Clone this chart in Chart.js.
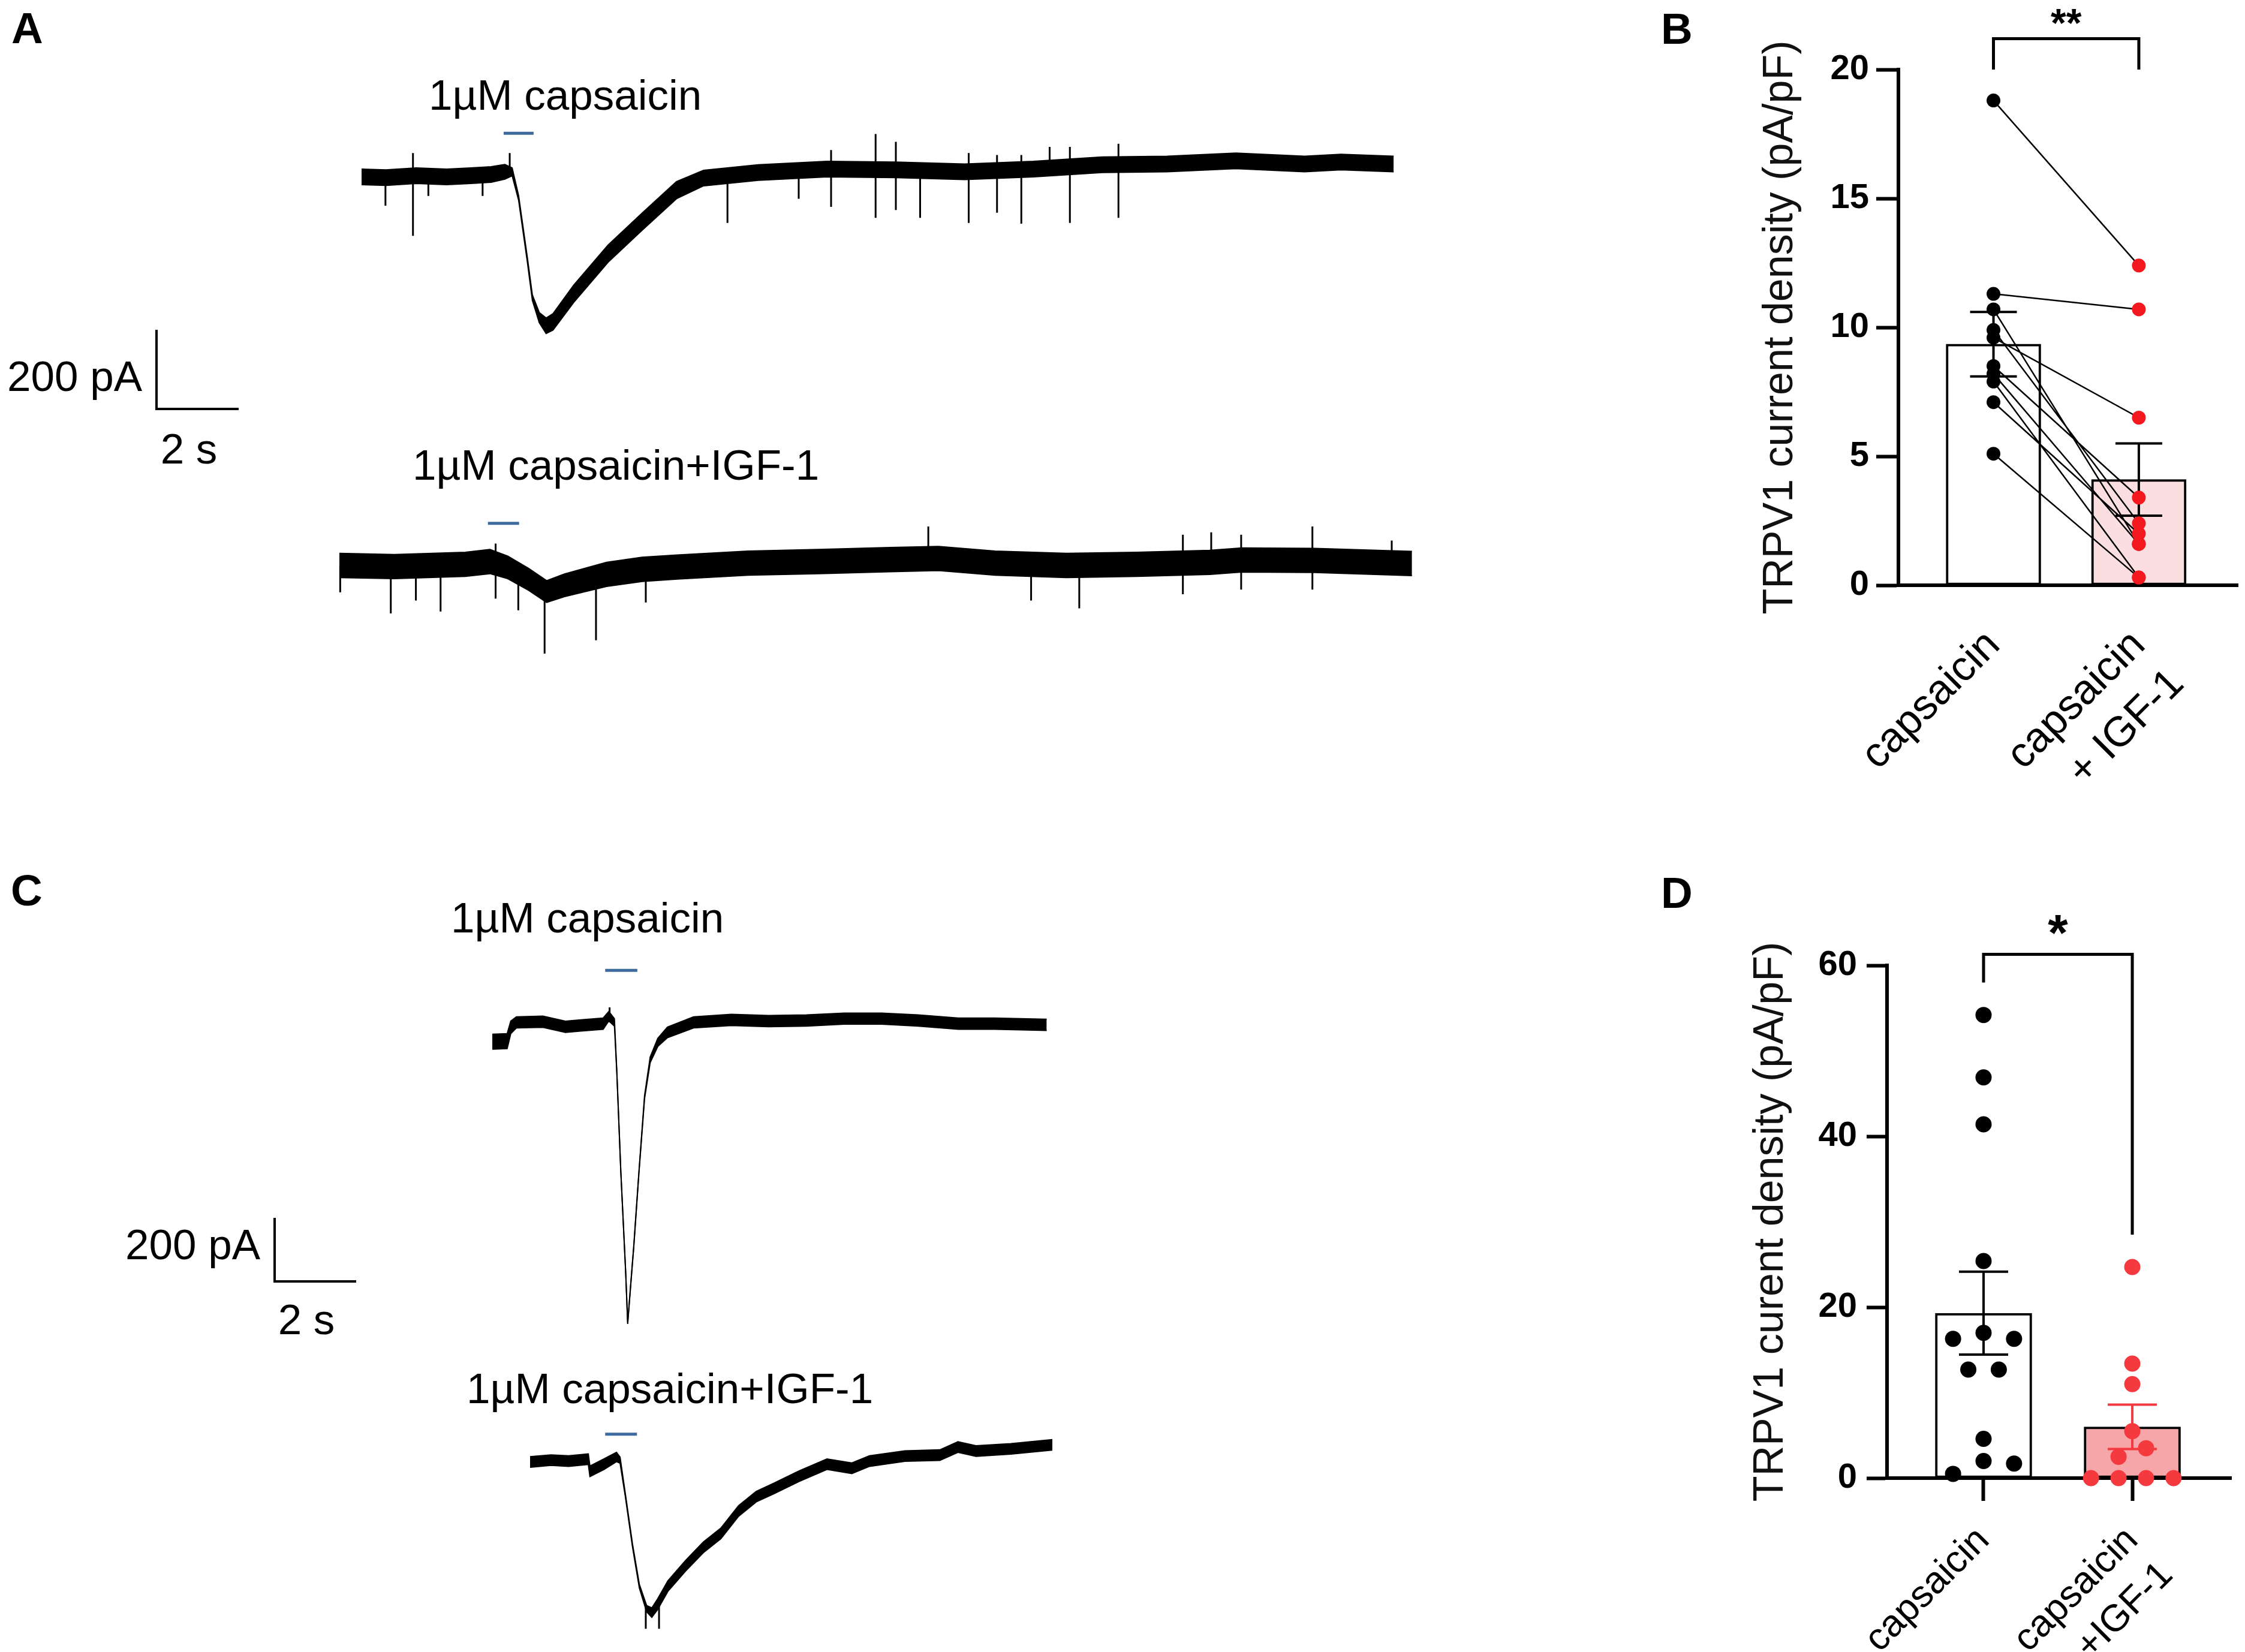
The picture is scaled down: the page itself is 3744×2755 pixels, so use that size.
<!DOCTYPE html>
<html>
<head>
<meta charset="utf-8">
<script src="https://cdn.jsdelivr.net/npm/chart.js@4.4.1/dist/chart.umd.min.js"></script>
<style>
html,body{margin:0;padding:0;background:#fff;width:3744px;height:2755px;overflow:hidden;}
canvas{position:absolute;display:block;}
</style>
</head>
<body>
<canvas id="cA" width="2400" height="1200" style="left:0px;top:0px;width:2400px;height:1200px"></canvas>
<canvas id="cC" width="2000" height="1355" style="left:0px;top:1400px;width:2000px;height:1355px"></canvas>
<canvas id="cB" width="1004" height="1340" style="left:2740px;top:0px;width:1004px;height:1340px"></canvas>
<canvas id="cD" width="1004" height="1335" style="left:2740px;top:1420px;width:1004px;height:1335px"></canvas>
<script>
// ---------------- DATA ----------------
// Panel A, top trace: 1 uM capsaicin (time s, current pA, noise band pA)
const timeA1 = [0.00,0.60,1.35,2.10,2.70,3.20,3.54,3.72,3.88,4.09,4.22,4.39,4.56,4.73,5.24,6.09,6.93,7.78,8.45,9.80,11.5,13.2,14.9,16.6,18.3,19.9,21.6,23.3,24.2,25.5];
const currentA1 = [0,-2,3,0,3,6,13,13,-54,-208,-310,-361,-382,-372,-300,-197,-115,-34,-3,11,20,18,13,20,31,33,41,33,38,33];
const noiseA1 = [40,40,40,40,40,40,38,20,12,12,14,26,40,42,44,44,44,44,40,40,40,40,40,40,40,40,40,40,40,40];
const spikesA1 = [[0.59,0,-74],[1.27,61,-151],[1.65,0,-49],[2.99,3,-49],[3.66,61,10],[9.04,10,-118],[10.8,15,-56],[11.6,69,-77],[12.7,110,-105],[13.2,90,-85],[13.8,15,-105],[15.0,61,-118],[15.7,56,-92],[16.3,56,-120],[17.0,77,20],[17.5,77,-118],[18.7,85,-105]];
const stimA1 = [3.51, 4.25, 112];
// Panel A, bottom trace: 1 uM capsaicin + IGF-1
const timeA2 = [0.00,1.36,3.11,3.72,4.16,4.68,5.12,5.56,6.60,7.48,8.35,10.1,11.85,13.6,14.8,16.2,17.96,19.7,21.5,22.3,24.1,26.5];
const currentA2 = [0,-3,3,10,-5,-36,-67,-51,-23,-10,-4,6,10,15,18,6,0,3,8,14,13,5];
const noiseA2 = [62,62,62,62,58,56,56,58,62,62,62,62,62,62,62,62,62,62,62,62,62,62];
const spikesA2 = [[0.02,0,-69],[1.27,0,-123],[1.89,0,-90],[2.50,0,-118],[3.86,56,-85],[4.42,-10,-115],[5.07,-60,-226],[6.34,-30,-192],[7.57,-10,-95],[14.55,100,15],[17.09,0,-90],[18.28,0,-110],[20.84,79,-74],[21.54,85,10],[22.28,79,-62],[24.04,100,-62],[26.0,64,5]];
const stimA2 = [3.67, 4.44, 108];
// Panel C, top trace
const timeC1 = [0.00,0.37,0.46,0.60,1.26,1.82,2.20,2.76,2.90,3.04,3.10,3.20,3.32,3.37,3.47,3.52,3.65,3.79,3.93,4.12,4.36,5.01,5.95,6.88,7.82,8.76,9.69,10.6,11.6,12.5,13.8];
const currentC1 = [-62,-60,-16,0,2,-14,-10,-4,20,0,-160,-481,-801,-965,-801,-721,-481,-240,-120,-64,-32,0,8,4,6,12,12,6,-4,-4,-8];
const noiseC1 = [48,48,40,36,36,36,36,36,30,24,6,5,5,4,5,5,6,10,18,26,34,36,36,36,36,36,36,36,36,36,36];
const spikesC1 = [[2.92,48,0]];
const stimC1 = [2.81, 3.61, 167];
// Panel C, bottom trace
const timeC2 = [0.00,0.52,0.96,1.45,1.49,1.84,2.15,2.24,2.37,2.55,2.72,2.90,3.03,3.17,3.43,3.87,4.31,4.75,5.19,5.63,6.07,6.69,7.39,8.01,8.45,9.33,10.2,10.65,11.1,11.97,13.0];
const currentC2 = [-6,0,-3,3,-36,-13,10,0,-111,-274,-404,-476,-489,-463,-404,-339,-280,-235,-163,-117,-91,-52,-13,-26,-3,13,16,42,29,36,49];
const noiseC2 = [34,34,34,34,34,34,30,20,10,10,12,20,30,34,34,34,34,34,34,34,34,34,34,34,34,34,34,34,34,34,34];
const spikesC2 = [[2.88,-470,-541],[3.21,-460,-541]];
const stimC2 = [1.87, 2.66, 83];
// Scale bars (pA, s)
const scaleBar = [200, 2];
const traceTitles = ['1µM capsaicin', '1µM capsaicin+IGF-1'];

// Panel B (paired)
const categoriesB = [['capsaicin'], ['capsaicin', '+ IGF-1']];
const capsaicinB = [18.8, 11.3, 10.7, 9.9, 9.6, 8.5, 8.2, 7.9, 7.1, 5.1];
const igfB = [12.4, 10.7, 1.6, 2.4, 6.5, 3.4, 1.6, 0.3, 2.0, 0.3];
const meanB = [9.35, 4.1];
const semB = [1.25, 1.4];
const ticksB = [0, 5, 10, 15, 20];
const bracketB = [21.2, 20.0, 20.0];
const titleB = 'TRPV1 current density (pA/pF)';
// Panel D
const categoriesD = [['capsaicin'], ['capsaicin', '+IGF-1']];
const capsaicinD = [54.2, 46.9, 41.4, 25.4, 17.0, 16.3, 16.3, 12.7, 12.7, 4.6, 2.0, 1.7, 0.5];
const igfD = [24.7, 13.4, 11.0, 5.5, 3.5, 2.5, 0, 0, 0, 0];
const meanD = [19.3, 6.0];
const semD = [4.85, 2.6];
const ticksD = [0, 20, 40, 60];
const bracketD = [61.3, 58.0, 28.5];
const titleD = 'TRPV1 curent density (pA/pF)';

// ---------------- RENDERING ----------------
const FF = '"Liberation Sans", Arial, Helvetica, sans-serif';
Chart.defaults.font.family = FF;
Chart.defaults.color = '#000';
Chart.defaults.animation = false;

const textPlugin = {
  id: 'texts',
  afterDraw(chart, args, opts) {
    const ctx = chart.ctx;
    (opts.items || []).forEach(it => {
      ctx.save();
      ctx.font = it.font;
      ctx.fillStyle = '#000';
      ctx.textAlign = it.align || 'left';
      ctx.textBaseline = 'alphabetic';
      ctx.fillText(it.text, it.x, it.y);
      ctx.restore();
    });
  }
};

function makeTrace(id, W, H, pxs, pxa, traces, bar, items) {
  const datasets = [];
  traces.forEach(tr => {
    const tOff = tr.x0 / pxs, iOff = -tr.y0 / pxa;
    const env = s => tr.t.map((v, k) => ({x: v + tOff, y: tr.i[k] + s * tr.n[k] / 2 + iOff}));
    datasets.push({data: env(1), borderColor: '#000', borderWidth: 2, fill: false});
    datasets.push({data: env(-1), borderColor: '#000', borderWidth: 2, fill: '-1', backgroundColor: '#000'});
    const sp = [];
    tr.spikes.forEach(([t, hi, lo]) => {
      sp.push({x: t + tOff, y: hi + iOff}, {x: t + tOff, y: lo + iOff}, {x: t + tOff, y: null});
    });
    datasets.push({data: sp, borderColor: '#000', borderWidth: 3, fill: false});
    datasets.push({data: [{x: tr.stim[0] + tOff, y: tr.stim[2] + iOff}, {x: tr.stim[1] + tOff, y: tr.stim[2] + iOff}],
      borderColor: '#3d6b9e', borderWidth: 5, fill: false});
  });
  const bT = bar.x0 / pxs, bI = -bar.y0 / pxa;
  datasets.push({data: [{x: bT, y: bI + scaleBar[0]}, {x: bT, y: bI}, {x: bT + scaleBar[1], y: bI}],
    borderColor: '#000', borderWidth: 4, fill: false, borderJoinStyle: 'miter', borderCapStyle: 'square'});
  return new Chart(document.getElementById(id), {
    type: 'line',
    data: {datasets},
    plugins: [textPlugin],
    options: {
      responsive: false, devicePixelRatio: 1, animation: false, events: [],
      layout: {padding: 0},
      elements: {point: {radius: 0, hoverRadius: 0}, line: {tension: 0}},
      scales: {
        x: {type: 'linear', min: 0, max: W / pxs, display: false},
        y: {type: 'linear', min: -H / pxa, max: 0, display: false}
      },
      plugins: {legend: {display: false}, tooltip: {enabled: false}, texts: {items}}
    }
  });
}

const F71 = '71px ' + FF, FL = 'bold 73px ' + FF;
// Panel A : 2 s = 135 px, 200 pA = 130 px
makeTrace('cA', 2400, 1200, 67.5, 130 / 200, [
  {t: timeA1, i: currentA1, n: noiseA1, spikes: spikesA1, stim: stimA1, x0: 603, y0: 295},
  {t: timeA2, i: currentA2, n: noiseA2, spikes: spikesA2, stim: stimA2, x0: 566, y0: 943}
], {x0: 261, y0: 682}, [
  {text: 'A', x: 19, y: 72, font: FL},
  {text: traceTitles[0], x: 715, y: 183, font: F71},
  {text: traceTitles[1], x: 688, y: 800, font: F71},
  {text: scaleBar[0] + ' pA', x: 237, y: 652, font: F71, align: 'right'},
  {text: scaleBar[1] + ' s', x: 315, y: 773, font: F71, align: 'center'}
]);
// Panel C : 2 s = 134 px, 200 pA = 104 px
makeTrace('cC', 2000, 1355, 67, 104 / 200, [
  {t: timeC1, i: currentC1, n: noiseC1, spikes: spikesC1, stim: stimC1, x0: 821, y0: 305},
  {t: timeC2, i: currentC2, n: noiseC2, spikes: spikesC2, stim: stimC2, x0: 884, y0: 1035}
], {x0: 458, y0: 737}, [
  {text: 'C', x: 18, y: 110, font: FL},
  {text: traceTitles[0], x: 752, y: 155, font: F71},
  {text: traceTitles[1], x: 778, y: 940, font: F71},
  {text: scaleBar[0] + ' pA', x: 434, y: 700, font: F71, align: 'right'},
  {text: scaleBar[1] + ' s', x: 511, y: 825, font: F71, align: 'center'}
]);

function swarm(values, center, binWidth, spacing) {
  const idx = values.map((v, i) => i).sort((a, b) => values[b] - values[a]);
  const xs = new Array(values.length);
  let g = [];
  const flush = () => {
    const n = g.length, slots = [];
    if (n % 2) { slots.push(0); for (let k = 1; slots.length < n; k++) { slots.push(k); if (slots.length < n) slots.push(-k); } }
    else { for (let k = 0.5; slots.length < n; k++) { slots.push(k); slots.push(-k); } }
    g.forEach((i, j) => { xs[i] = center + slots[j] * spacing; });
    g = [];
  };
  idx.forEach(i => { if (g.length && values[g[0]] - values[i] >= binWidth) flush(); g.push(i); });
  flush();
  return values.map((v, i) => ({x: xs[i], y: v}));
}

function makeStat(id, cfg) {
  const pad = {left: 0, top: 0, right: 0, bottom: 0};
  const datasets = [{
    type: 'bar', data: cfg.mean.map((m, i) => ({x: i, y: m})), backgroundColor: cfg.fills,
    borderColor: '#000', borderWidth: 4, borderSkipped: false, barThickness: cfg.barPx, order: 10
  }];
  let pa, pb;
  if (cfg.paired) {
    const lines = [];
    cfg.a.forEach((v, k) => { lines.push({x: 0, y: v}, {x: 1, y: cfg.b[k]}, {x: 1, y: null}); });
    datasets.push({type: 'line', data: lines, borderColor: '#000', borderWidth: 2.5, pointRadius: 0, fill: false, order: 5, clip: false, tension: 0});
    pa = cfg.a.map(v => ({x: 0, y: v}));
    pb = cfg.b.map(v => ({x: 1, y: v}));
  } else {
    pa = swarm(cfg.a, 0, 1.9, cfg.spacing[0]);
    pb = swarm(cfg.b, 1, 1.9, cfg.spacing[1]);
  }
  datasets.push({type: 'scatter', data: pa, backgroundColor: '#000', borderWidth: 0, pointRadius: cfg.r, pointHoverRadius: cfg.r, order: 2, clip: false});
  datasets.push({type: 'scatter', data: pb, backgroundColor: cfg.red, borderWidth: 0, pointRadius: cfg.r, pointHoverRadius: cfg.r, order: 1, clip: false});

  const extras = {
    id: 'extras',
    afterDatasetDraw(chart, args) {
      if (args.index !== 0) return;
      const {ctx, scales: {x, y}} = chart;
      ctx.save();
      ctx.lineWidth = 4;
      cfg.mean.forEach((m, i) => {
        const px = x.getPixelForValue(i), hi = y.getPixelForValue(m + cfg.sem[i]), lo = y.getPixelForValue(m - cfg.sem[i]);
        ctx.strokeStyle = cfg.errColors[i];
        ctx.beginPath();
        ctx.moveTo(px, lo); ctx.lineTo(px, hi);
        ctx.moveTo(px - cfg.capPx, hi); ctx.lineTo(px + cfg.capPx, hi);
        ctx.moveTo(px - cfg.capPx, lo); ctx.lineTo(px + cfg.capPx, lo);
        ctx.stroke();
      });
      ctx.restore();
    },
    afterDraw(chart) {
      const {ctx, scales: {x, y}} = chart;
      const [top, l, r] = cfg.bracket;
      const x0 = x.getPixelForValue(0), x1 = x.getPixelForValue(1), yt = y.getPixelForValue(top);
      ctx.save();
      ctx.strokeStyle = '#000'; ctx.lineWidth = 5; ctx.lineJoin = 'miter';
      ctx.beginPath();
      ctx.moveTo(x0, y.getPixelForValue(l)); ctx.lineTo(x0, yt); ctx.lineTo(x1, yt); ctx.lineTo(x1, y.getPixelForValue(r));
      ctx.stroke();
      ctx.fillStyle = '#000'; ctx.font = 'bold ' + cfg.starSize + 'px ' + FF; ctx.textAlign = 'center'; ctx.textBaseline = 'alphabetic';
      ctx.fillText(cfg.sig, (x0 + x1) / 2, yt - cfg.starGap);
      ctx.restore();
    }
  };

  const chart = new Chart(document.getElementById(id), {
    type: 'bar',
    data: {datasets},
    plugins: [extras, textPlugin],
    options: {
      responsive: false, devicePixelRatio: 1, animation: false, events: [],
      layout: {padding: pad},
      scales: {
        x: {
          type: 'linear', min: cfg.xmin, max: cfg.xmax, offset: false,
          afterBuildTicks: s => { s.ticks = [{value: 0}, {value: 1}]; },
          afterFit: s => { s.paddingLeft = 0; s.paddingRight = 0; },
          ticks: {callback: v => cfg.cats[v], autoSkip: false, minRotation: 45, maxRotation: 45,
            font: {size: cfg.xFont, lineHeight: 1.3}, color: '#000', padding: cfg.xPad},
          grid: {display: cfg.xTicks, offset: false, drawOnChartArea: false, drawTicks: cfg.xTicks, tickLength: 38, tickWidth: 6, tickColor: '#000'},
          border: {display: true, color: '#000', width: 6}
        },
        y: {
          type: 'linear', min: cfg.ticks[0], max: cfg.ticks[cfg.ticks.length - 1],
          afterBuildTicks: s => { s.ticks = cfg.ticks.map(v => ({value: v})); },
          afterFit: s => { s.paddingTop = 0; s.paddingBottom = 0; },
          ticks: {font: {size: 58, weight: 'bold'}, color: '#000', padding: cfg.yPad},
          grid: {drawOnChartArea: false, drawTicks: true, tickLength: cfg.yTick, tickWidth: 6, tickColor: '#000'},
          border: {display: true, color: '#000', width: 6},
          title: {display: true, text: cfg.title, font: {size: 70}, color: '#111', padding: {top: 0, bottom: cfg.titlePad}}
        }
      },
      plugins: {legend: {display: false}, tooltip: {enabled: false}, texts: {items: [{text: cfg.letter, x: 30, y: cfg.letterY, font: FL}]}}
    }
  });
  for (let k = 0; k < 4; k++) {
    const a = chart.chartArea, p = chart.config.options.layout.padding;
    p.left += cfg.area.left - a.left;
    p.top += cfg.area.top - a.top;
    p.right += a.right - cfg.area.right;
    p.bottom += a.bottom - cfg.area.bottom;
    chart.update('none');
  }
  return chart;
}

makeStat('cB', {
  paired: true, a: capsaicinB, b: igfB, mean: meanB, sem: semB, ticks: ticksB, cats: categoriesB,
  bracket: bracketB, sig: '**', starSize: 66, starGap: 3, title: titleB, letter: 'B', letterY: 73,
  fills: ['#ffffff', '#fbdfe0'], errColors: ['#000', '#000'], red: '#f3191e', r: 11.5, barPx: 158, capPx: 39,
  xmin: -0.654, xmax: 1.683, area: {left: 426, top: 116, right: 1001, bottom: 976},
  xTicks: false, xFont: 70, xPad: 57, yPad: 12, yTick: 37, titlePad: 29
});
makeStat('cD', {
  paired: false, a: capsaicinD, b: igfD, mean: meanD, sem: semD, ticks: ticksD, cats: categoriesD,
  bracket: bracketD, sig: '*', starSize: 86, starGap: 6, title: titleD, letter: 'D', letterY: 94,
  fills: ['#ffffff', '#f6a5a8'], errColors: ['#000', '#f4393f'], red: '#f4393f', r: 13.5, barPx: 161, capPx: 41,
  spacing: [0.205, 0.185],
  xmin: -0.649, xmax: 1.665, area: {left: 407, top: 190, right: 981, bottom: 1045},
  xTicks: true, xFont: 63, xPad: 27, yPad: 16, yTick: 34, titlePad: 21
});
</script>
</body>
</html>
